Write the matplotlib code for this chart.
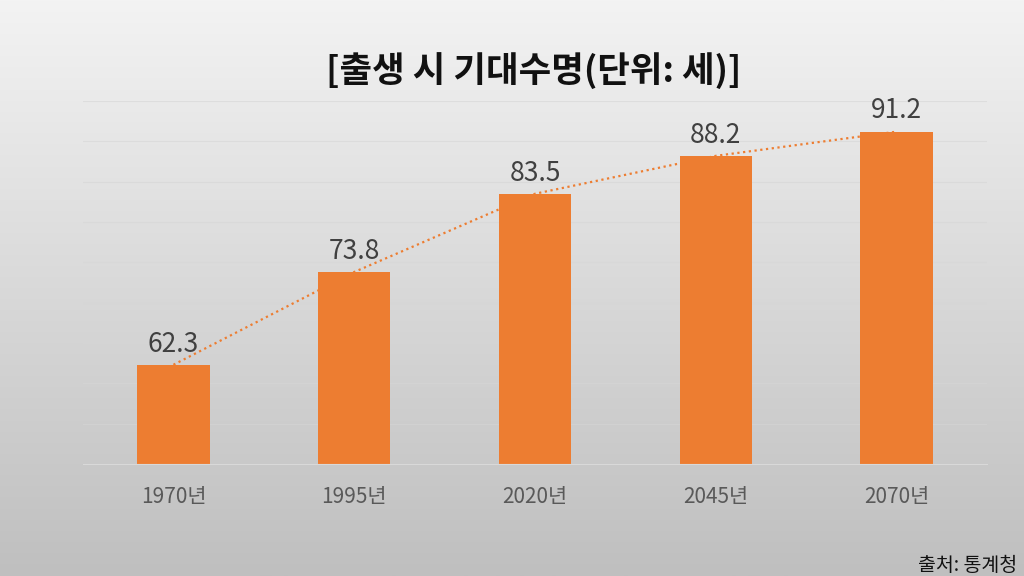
import numpy as np
import matplotlib
matplotlib.use("Agg")
import matplotlib.pyplot as plt

plt.rcParams["font.family"] = ["Noto Sans CJK KR", "DejaVu Sans"]

years = ["1970년", "1995년", "2020년", "2045년", "2070년"]
life_expectancy = [62.3, 73.8, 83.5, 88.2, 91.2]

BAR_COLOR = "#ED7D31"

fig = plt.figure(figsize=(10.24, 5.76), dpi=100)

# gradient background
bg = fig.add_axes([0, 0, 1, 1], zorder=0)
grad = np.linspace(0, 1, 256).reshape(-1, 1)
cmap = matplotlib.colors.LinearSegmentedColormap.from_list("bg", ["#f3f3f3", "#bfbfbf"])
bg.imshow(grad, aspect="auto", cmap=cmap, extent=[0, 1, 0, 1], origin="upper")
bg.set_axis_off()

# axes: x 83..987 px, y baseline 464, top (95) at 101
ax = fig.add_axes([83 / 1024, (576 - 464) / 576, 904 / 1024, 363 / 576], zorder=1)
ax.patch.set_alpha(0)

x = np.arange(len(years))
ax.bar(x, life_expectancy, width=0.4, color=BAR_COLOR, bottom=0, zorder=2)
ax.plot(x, life_expectancy, linestyle=(0, (1, 1.6)), color=BAR_COLOR, lw=1.6, zorder=3)

for xi, v in zip(x, life_expectancy):
    ax.text(xi, v + 0.9, f"{v}", ha="center", va="bottom", fontsize=19, color="#404040")

ax.set_xlim(-0.5, len(years) - 0.5)
ax.set_ylim(50, 95)
ax.set_yticks(np.arange(50, 96, 5))
ax.yaxis.grid(True, color="#d6d6d6", lw=0.8, alpha=0.6)
ax.set_axisbelow(True)
ax.tick_params(axis="y", left=False, labelleft=False)
ax.tick_params(axis="x", length=0, pad=16, labelsize=15, labelcolor="#595959")
ax.set_xticks(x)
ax.set_xticklabels(years)
for side in ["top", "right", "left"]:
    ax.spines[side].set_visible(False)
ax.spines["bottom"].set_color("#d9d9d9")

fig.text(0.521, 0.877, "[출생 시 기대수명(단위: 세)]", ha="center", va="center",
         fontsize=25.5, fontweight="bold", color="#111111")
fig.text(0.993, 0.022, "출처: 통계청", ha="right", va="center_baseline", fontsize=14, color="#111111")

fig.savefig("out.png", dpi=100)
